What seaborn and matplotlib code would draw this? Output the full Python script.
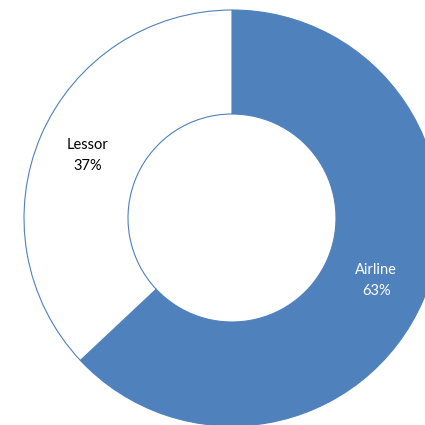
import matplotlib
matplotlib.use("Agg")
import matplotlib.pyplot as plt
import seaborn as sns

categories = ["Airline", "Lessor"]
shares = [63, 37]
colors = ["#4F81BD", "#FFFFFF"]
label_colors = ["white", "black"]

sns.set_theme(style="white")
plt.rcParams["font.family"] = ["Lato", "DejaVu Sans"]

fig = plt.figure(figsize=(4.25, 4.25), dpi=100)
ax = fig.add_axes([0, 0, 1, 1])

labels = [f"{c}\n{v}%" for c, v in zip(categories, shares)]
wedges, texts = ax.pie(
    shares,
    labels=labels,
    colors=colors,
    startangle=90,
    counterclock=False,
    labeldistance=0.755,
    wedgeprops=dict(width=0.5, edgecolor="#4F81BD", linewidth=0.8),
    textprops=dict(fontsize=10.5, linespacing=1.6),
)
for t, c in zip(texts, label_colors):
    t.set_ha("center")
    t.set_va("center")
    t.set_color(c)

# pie radius 1 spans 208 px; centre sits at (232, 218) px
r_px = 208
ax.set_xlim(-232 / r_px, (425 - 232) / r_px)
ax.set_ylim(-(425 - 218) / r_px, 218 / r_px)
ax.set_aspect("equal")
ax.axis("off")

fig.savefig("out.png", dpi=100)
